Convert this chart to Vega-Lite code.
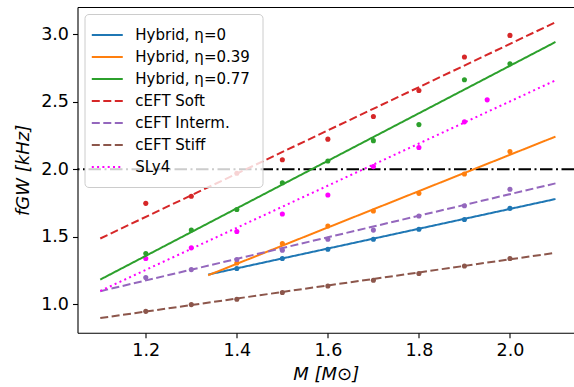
{
  "$schema": "https://vega.github.io/schema/vega-lite/v6.json",
  "autosize": {"type": "none"},
  "padding": {"left": 77.5, "top": 7, "right": 0, "bottom": 54.3},
  "width": 496.5,
  "height": 325.7,
  "background": "white",
  "config": {
    "view": {"stroke": null},
    "font": "DejaVu Sans",
    "axis": {
      "labelFont": "DejaVu Sans",
      "labelFontSize": 17.5,
      "labelColor": "black",
      "titleFont": "DejaVu Sans",
      "titleFontSize": 18,
      "titleFontWeight": "normal",
      "titleFontStyle": "italic",
      "titleColor": "black",
      "domainColor": "black",
      "domainWidth": 1.1,
      "tickColor": "black",
      "tickWidth": 1.1,
      "tickSize": 5,
      "labelPadding": 4,
      "grid": false
    }
  },
  "datasets": {
    "lines": [
      {"series": "Hybrid, η=0", "M": 1.337, "f": 1.22},
      {"series": "Hybrid, η=0", "M": 2.1, "f": 1.779},
      {"series": "Hybrid, η=0.39", "M": 1.337, "f": 1.215},
      {"series": "Hybrid, η=0.39", "M": 2.1, "f": 2.241},
      {"series": "Hybrid, η=0.77", "M": 1.1, "f": 1.183},
      {"series": "Hybrid, η=0.77", "M": 2.1, "f": 2.941},
      {"series": "cEFT Soft", "M": 1.1, "f": 1.487},
      {"series": "cEFT Soft", "M": 2.1, "f": 3.087},
      {"series": "cEFT Interm.", "M": 1.1, "f": 1.097},
      {"series": "cEFT Interm.", "M": 2.1, "f": 1.895},
      {"series": "cEFT Stiff", "M": 1.1, "f": 0.898},
      {"series": "cEFT Stiff", "M": 2.1, "f": 1.381},
      {"series": "SLy4", "M": 1.1, "f": 1.099},
      {"series": "SLy4", "M": 2.1, "f": 2.657}
    ],
    "points": [
      {"series": "cEFT Soft", "M": 1.2, "f": 1.747},
      {"series": "cEFT Soft", "M": 1.3, "f": 1.80},
      {"series": "cEFT Soft", "M": 1.4, "f": 1.97},
      {"series": "cEFT Soft", "M": 1.5, "f": 2.07},
      {"series": "cEFT Soft", "M": 1.6, "f": 2.222},
      {"series": "cEFT Soft", "M": 1.7, "f": 2.39},
      {"series": "cEFT Soft", "M": 1.8, "f": 2.582},
      {"series": "cEFT Soft", "M": 1.9, "f": 2.83},
      {"series": "cEFT Soft", "M": 2.0, "f": 2.99},
      {"series": "Hybrid, η=0.77", "M": 1.2, "f": 1.376},
      {"series": "Hybrid, η=0.77", "M": 1.3, "f": 1.549},
      {"series": "Hybrid, η=0.77", "M": 1.4, "f": 1.702},
      {"series": "Hybrid, η=0.77", "M": 1.5, "f": 1.90},
      {"series": "Hybrid, η=0.77", "M": 1.6, "f": 2.061},
      {"series": "Hybrid, η=0.77", "M": 1.7, "f": 2.211},
      {"series": "Hybrid, η=0.77", "M": 1.8, "f": 2.33},
      {"series": "Hybrid, η=0.77", "M": 1.9, "f": 2.662},
      {"series": "Hybrid, η=0.77", "M": 2.0, "f": 2.78},
      {"series": "SLy4", "M": 1.2, "f": 1.339},
      {"series": "SLy4", "M": 1.3, "f": 1.418},
      {"series": "SLy4", "M": 1.4, "f": 1.539},
      {"series": "SLy4", "M": 1.5, "f": 1.668},
      {"series": "SLy4", "M": 1.6, "f": 1.809},
      {"series": "SLy4", "M": 1.7, "f": 2.019},
      {"series": "SLy4", "M": 1.8, "f": 2.16},
      {"series": "SLy4", "M": 1.9, "f": 2.35},
      {"series": "SLy4", "M": 1.95, "f": 2.513},
      {"series": "Hybrid, η=0.39", "M": 1.4, "f": 1.306},
      {"series": "Hybrid, η=0.39", "M": 1.5, "f": 1.45},
      {"series": "Hybrid, η=0.39", "M": 1.6, "f": 1.579},
      {"series": "Hybrid, η=0.39", "M": 1.7, "f": 1.69},
      {"series": "Hybrid, η=0.39", "M": 1.8, "f": 1.821},
      {"series": "Hybrid, η=0.39", "M": 1.9, "f": 1.964},
      {"series": "Hybrid, η=0.39", "M": 2.0, "f": 2.13},
      {"series": "Hybrid, η=0", "M": 1.4, "f": 1.265},
      {"series": "Hybrid, η=0", "M": 1.5, "f": 1.339},
      {"series": "Hybrid, η=0", "M": 1.6, "f": 1.408},
      {"series": "Hybrid, η=0", "M": 1.7, "f": 1.482},
      {"series": "Hybrid, η=0", "M": 1.8, "f": 1.556},
      {"series": "Hybrid, η=0", "M": 1.9, "f": 1.628},
      {"series": "Hybrid, η=0", "M": 2.0, "f": 1.71},
      {"series": "cEFT Interm.", "M": 1.2, "f": 1.198},
      {"series": "cEFT Interm.", "M": 1.3, "f": 1.257},
      {"series": "cEFT Interm.", "M": 1.4, "f": 1.332},
      {"series": "cEFT Interm.", "M": 1.5, "f": 1.401},
      {"series": "cEFT Interm.", "M": 1.6, "f": 1.482},
      {"series": "cEFT Interm.", "M": 1.7, "f": 1.549},
      {"series": "cEFT Interm.", "M": 1.8, "f": 1.653},
      {"series": "cEFT Interm.", "M": 1.9, "f": 1.729},
      {"series": "cEFT Interm.", "M": 2.0, "f": 1.851},
      {"series": "cEFT Stiff", "M": 1.2, "f": 0.948},
      {"series": "cEFT Stiff", "M": 1.3, "f": 0.998},
      {"series": "cEFT Stiff", "M": 1.4, "f": 1.037},
      {"series": "cEFT Stiff", "M": 1.5, "f": 1.087},
      {"series": "cEFT Stiff", "M": 1.6, "f": 1.136},
      {"series": "cEFT Stiff", "M": 1.7, "f": 1.178},
      {"series": "cEFT Stiff", "M": 1.8, "f": 1.228},
      {"series": "cEFT Stiff", "M": 1.9, "f": 1.284},
      {"series": "cEFT Stiff", "M": 2.0, "f": 1.339}
    ],
    "ref": [{"f": 2.0}]
  },
  "layer": [
    {
      "data": {"name": "ref"},
      "mark": {"type": "rule", "color": "black", "strokeWidth": 2, "strokeDash": [12.5, 3.5, 2, 3.5]},
      "encoding": {
        "y": {"field": "f", "type": "quantitative", "scale": {"domain": [0.79, 3.2], "nice": false, "zero": false}}
      }
    },
    {
      "data": {"name": "points"},
      "mark": {"type": "circle", "size": 26, "opacity": 1},
      "encoding": {
        "x": {
          "field": "M", "type": "quantitative",
          "axis": {"orient": "top", "labels": false, "ticks": false, "title": null, "domain": true}
        },
        "y": {"field": "f", "type": "quantitative"},
        "color": {"field": "series", "type": "nominal"}
      }
    },
    {
      "data": {"name": "lines"},
      "mark": {"type": "line", "strokeWidth": 2, "clip": true},
      "encoding": {
        "x": {
          "field": "M", "type": "quantitative",
          "scale": {"domain": [1.05, 2.1407], "nice": false, "zero": false},
          "axis": {"values": [1.2, 1.4, 1.6, 1.8, 2.0], "format": ".1f", "title": "M [M⊙]", "titlePadding": 6}
        },
        "y": {
          "field": "f", "type": "quantitative",
          "scale": {"domain": [0.79, 3.2], "nice": false, "zero": false},
          "axis": {"values": [1.0, 1.5, 2.0, 2.5, 3.0], "format": ".1f", "title": "fGW [kHz]", "titlePadding": 8}
        },
        "color": {
          "field": "series", "type": "nominal",
          "scale": {
            "domain": ["Hybrid, η=0", "Hybrid, η=0.39", "Hybrid, η=0.77", "cEFT Soft", "cEFT Interm.", "cEFT Stiff", "SLy4"],
            "range": ["#1f77b4", "#ff7f0e", "#2ca02c", "#d62728", "#9467bd", "#8c564b", "#ff00ff"]
          },
          "legend": {
            "title": null,
            "orient": "top-left",
            "offset": 7,
            "symbolType": "M-1.77,0H2.23",
            "symbolSize": 240,
            "symbolStrokeWidth": 2,
            "labelFont": "DejaVu Sans",
            "labelFontSize": 15,
            "labelColor": "black",
            "labelOffset": 20.8,
            "rowPadding": 5,
            "padding": 12,
            "fillColor": "rgba(255,255,255,0.8)",
            "strokeColor": "#cccccc",
            "cornerRadius": 4
          }
        },
        "strokeDash": {
          "field": "series", "type": "nominal",
          "scale": {
            "domain": ["Hybrid, η=0", "Hybrid, η=0.39", "Hybrid, η=0.77", "cEFT Soft", "cEFT Interm.", "cEFT Stiff", "SLy4"],
            "range": [[1, 0], [1, 0], [1, 0], [8, 3.5], [8, 3.5], [8, 3.5], [2, 3.3]]
          },
          "legend": {"title": null}
        }
      }
    }
  ],
  "resolve": {"axis": {"x": "independent"}}
}
